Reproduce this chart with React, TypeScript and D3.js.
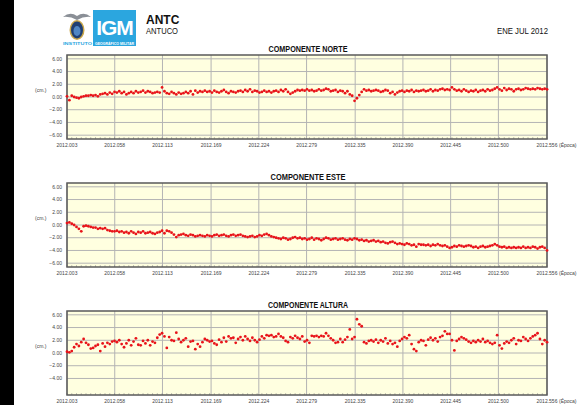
import React, { useEffect, useRef } from 'react';
import * as d3 from 'd3';

// decimal-year epochs on the x axis
const tickValues = [2012.003, 2012.058, 2012.113, 2012.169, 2012.224, 2012.279, 2012.335, 2012.39, 2012.445, 2012.5, 2012.556];
const tickLabels = ['2012.003', '2012.058', '2012.113', '2012.169', '2012.224', '2012.279', '2012.335', '2012.390', '2012.445', '2012.500', '2012.556'];
const yTicks = [6, 4, 2, 0, -2, -4, -6];
const startEpoch = 2012.003;

// daily solutions (cm)
const norte = [
  0.1, -0.5, 0.2, 0.0, -0.1, -0.2, 0.0, 0.1, 0.2, 0.2,
  0.3, 0.2, 0.3, 0.1, 0.4, 0.5, 0.6, 0.4, 0.7, 0.5,
  0.8, 0.7, 0.9, 0.6, 0.8, 0.4, 0.6, 0.8, 0.6, 0.9,
  0.7, 0.8, 1.0, 0.7, 0.9, 0.8, 0.6, 0.7, 0.8, 0.7,
  1.5, 0.9, 0.6, 0.5, 0.8, 0.6, 0.4, 0.7, 0.5, 0.6,
  0.8, 0.6, 0.9, 0.4, 1.0, 0.7, 0.9, 0.8, 1.0, 0.8,
  0.9, 0.7, 1.0, 0.8, 0.7, 0.9, 1.1, 0.8, 0.6, 0.9,
  0.8, 0.7, 0.9, 1.0, 0.8, 1.1, 0.9, 1.2, 0.8, 1.0,
  0.9, 0.7, 0.8, 1.0, 0.8, 0.9, 0.7, 0.9, 1.0, 0.8,
  1.1, 0.9, 1.2, 0.8, 0.5, 0.7, 0.9, 1.1, 1.0, 1.1,
  1.0, 1.2, 1.0, 1.1, 0.9, 1.0, 1.2, 1.0, 1.1, 1.3,
  1.2, 0.9, 1.0, 1.1, 0.8, 1.0, 0.9, 0.6, 0.9, 0.4,
  0.2, -0.6, -0.2, 0.3, 0.8, 1.2, 1.0, 1.1, 0.9, 1.0,
  1.1, 1.0, 0.8, 0.9, 1.1, 1.0, 0.6, 0.8, 0.4, 0.7,
  0.9, 1.0, 0.8, 1.0, 0.9, 1.1, 0.8, 1.0, 0.9, 1.0,
  1.1, 0.9, 1.0, 1.2, 0.9, 1.1, 1.0, 1.2, 1.3, 1.1,
  1.2, 1.1, 1.5, 1.2, 1.0, 1.1, 0.9, 1.2, 1.0, 0.8,
  1.0, 0.9, 1.1, 0.8, 1.0, 1.1, 0.9, 1.2, 1.0, 1.1,
  1.3, 1.5, 1.2, 1.0, 1.4, 1.1, 1.3, 1.2, 0.9, 1.2,
  1.3, 1.1, 1.2, 1.4, 1.3, 1.2, 1.3, 1.2, 1.4, 1.3,
  1.2, 1.3, 1.2,
];

const este = [
  0.3, 0.4, 0.2, 0.0, -0.3, -0.6, -1.0, -0.2, -0.1, -0.2,
  -0.3, -0.4, -0.4, -0.6, -0.5, -0.6, -0.5, -0.8, -0.9, -1.0,
  -1.0, -0.9, -1.1, -1.0, -1.2, -1.1, -1.3, -1.0, -1.2, -1.4,
  -1.1, -1.2, -1.0, -1.3, -1.2, -1.1, -1.3, -1.4, -1.2, -1.1,
  -0.9, -1.3, -0.9, -1.0, -1.2, -1.5, -1.9, -1.6, -1.5, -1.4,
  -1.6, -1.7, -1.5, -1.6, -1.8, -1.7, -1.6, -1.7, -1.8, -1.6,
  -1.7, -1.8, -1.6, -1.5, -1.7, -1.6, -1.5, -1.7, -1.8, -1.6,
  -1.5, -1.7, -1.6, -1.5, -1.7, -1.8, -1.9, -1.8, -1.7, -1.9,
  -1.8, -1.6, -1.7, -1.5, -1.4, -1.6, -1.8, -1.9, -2.0, -2.1,
  -2.2, -2.0, -2.1, -2.3, -2.2, -2.0, -1.9, -2.1, -2.0, -2.2,
  -2.1, -2.3, -2.2, -2.0, -2.3, -2.1, -2.2, -2.4, -2.2, -2.0,
  -2.1, -2.3, -2.2, -2.1, -2.3, -2.2, -2.1, -2.3, -2.4, -2.2,
  -2.3, -2.1, -2.2, -2.4, -2.3, -2.5, -2.4, -2.6, -2.5, -2.4,
  -2.6, -2.5, -2.7, -2.6, -2.8, -2.9, -2.7, -2.6, -2.8, -3.0,
  -2.9, -3.0, -3.1, -2.9, -3.0, -3.2, -3.1, -3.4, -3.0, -3.1,
  -3.1, -3.2, -3.1, -3.3, -3.1, -3.2, -3.0, -3.2, -3.3, -3.2,
  -3.4, -3.6, -3.5, -3.3, -3.4, -3.2, -3.3, -3.4, -3.3, -3.2,
  -3.3, -3.5, -3.4, -3.6, -3.4, -3.3, -3.5, -3.4, -3.3, -3.2,
  -3.0, -3.2, -3.4, -3.5, -3.4, -3.6, -3.5, -3.6, -3.5, -3.6,
  -3.5, -3.6, -3.4, -3.6, -3.5, -3.6, -3.4, -3.5, -3.7, -3.5,
  -3.4, -3.6, -4.0,
];

const altura = [
  0.2, 0.1, 0.3, 0.9, 1.4, 1.1, 1.7, 2.2, 1.6, 1.3,
  0.7, 0.8, 1.1, 1.3, 0.3, 1.5, 1.0, 1.6, 1.4, 1.8,
  1.9, 1.7, 2.0, 1.4, 0.9, 1.5, 2.0, 1.2, 1.8, 2.3,
  1.3, 1.2, 1.9, 1.5, 2.0, 1.2, 1.8, 1.6, 2.4, 2.9,
  3.1, 2.6, 0.8, 2.5, 2.0, 1.9, 3.2, 2.2, 1.7, 2.0,
  2.3, 1.0, 1.8, 1.9, 0.6, 1.4, 1.0, 1.7, 2.2, 2.0,
  1.8, 1.9, 1.5, 1.3, 2.1, 1.7, 2.4, 1.8, 2.6, 2.3,
  2.4, 1.6, 2.2, 2.5, 2.0, 2.6, 2.2, 1.9, 2.4, 2.0,
  1.7, 2.1, 2.6, 2.3, 2.8, 2.7, 2.8, 2.5, 2.6, 3.0,
  2.6, 2.4, 1.9, 1.7, 2.5, 2.3, 2.7, 2.4, 2.2, 2.6,
  1.8, 2.0, 1.6, 2.7, 2.6, 2.7, 2.5, 2.7, 2.6, 3.1,
  2.7, 2.3, 2.0, 1.6, 1.7, 2.2, 1.7, 2.1, 2.5, 3.7,
  2.2, 2.5, 5.3, 4.5, 4.2, 1.7, 1.5, 1.9, 2.0, 1.8,
  2.1, 1.6, 2.0, 1.8, 2.3, 1.5, 1.9, 1.4, 1.6, 1.0,
  1.9, 2.2, 2.5, 2.3, 2.8, 1.4, 0.6, 0.3, 1.7, 2.0,
  1.9, 1.2, 2.1, 2.4, 2.0, 2.3, 1.8, 2.5, 2.7, 3.4,
  3.0, 3.0, 2.0, 0.4, 1.9, 2.2, 2.5, 2.3, 2.1, 1.8,
  1.6, 1.9, 1.7, 2.0, 1.8, 2.2, 1.7, 1.9, 1.6, 1.4,
  1.6, 2.8, 1.2, 0.7, 1.5, 1.8, 1.6, 2.0, 2.3, 1.4,
  2.0, 1.9, 2.5, 2.2, 1.9, 2.3, 2.6, 2.8, 3.1, 2.2,
  1.4, 2.0, 1.7,
];

const panels = [
  { title: 'COMPONENTE NORTE', titleWidth: 79, values: norte, labels: yTicks },
  { title: 'COMPONENTE ESTE', titleWidth: 75, values: este, labels: yTicks },
  { title: 'COMPONENTE ALTURA', titleWidth: 80, values: altura, labels: [6, 4, 2, 0, -2, -4] },
];

const FONT = '"Liberation Sans", Arial, sans-serif';

export default function App() {
  const ref = useRef<SVGSVGElement>(null);

  useEffect(() => {
    if (!ref.current) return;
    const svg = d3.select(ref.current);
    svg.selectAll('*').remove();

    const width = 578;
    const height = 405;
    const left = 67;
    const right = 547;
    const plotH = 84;
    const tops = [55, 183, 311];

    svg.append('rect').attr('width', width).attr('height', height).attr('fill', '#fff');
    svg.append('rect').attr('width', 14).attr('height', height).attr('fill', '#000');

    // ------- Header -------
    const logo = svg.append('g');
    // emblem
    logo.append('path')
      .attr('d', 'M63,17 Q70,11 77,16 Q84,11 91,17 Q84,16 77,20 Q70,16 63,17 Z')
      .attr('fill', '#8a8f96');
    logo.append('ellipse').attr('cx', 77).attr('cy', 30).attr('rx', 7.5).attr('ry', 10).attr('fill', '#c9a64a');
    logo.append('ellipse').attr('cx', 77).attr('cy', 30).attr('rx', 6).attr('ry', 8.5).attr('fill', '#1f3f73');
    logo.append('ellipse').attr('cx', 77).attr('cy', 31).attr('rx', 3.5).attr('ry', 5).attr('fill', '#4f86c4');
    logo.append('rect').attr('x', 93).attr('y', 10).attr('width', 43).attr('height', 36).attr('fill', '#2ba6df');
    logo.append('text').attr('x', 114.5).attr('y', 35).attr('text-anchor', 'middle')
      .attr('font-family', FONT).attr('font-weight', 'bold')
      .attr('font-size', 21).attr('fill', '#fff').attr('letter-spacing', -1).text('IGM');
    logo.append('text').attr('x', 63).attr('y', 44.5).attr('font-family', FONT)
      .attr('font-size', 3.6).attr('font-weight', 'bold').attr('fill', '#2ba6df')
      .attr('textLength', 29).attr('lengthAdjust', 'spacingAndGlyphs').text('INSTITUTO');
    logo.append('text').attr('x', 95).attr('y', 44.5).attr('font-family', FONT)
      .attr('font-size', 3.6).attr('font-weight', 'bold').attr('fill', '#fff')
      .attr('textLength', 39).attr('lengthAdjust', 'spacingAndGlyphs').text('GEOGRÁFICO MILITAR');

    svg.append('text').attr('x', 146).attr('y', 24).attr('font-family', FONT)
      .attr('font-weight', 'bold').attr('font-size', 12).attr('fill', '#111').text('ANTC');
    svg.append('text').attr('x', 146).attr('y', 33.5).attr('font-family', FONT)
      .attr('font-size', 8.5).attr('fill', '#111')
      .attr('textLength', 32).attr('lengthAdjust', 'spacingAndGlyphs').text('ANTUCO');
    svg.append('text').attr('x', 497).attr('y', 34).attr('font-family', FONT)
      .attr('font-size', 8.5).attr('fill', '#111')
      .attr('textLength', 51).attr('lengthAdjust', 'spacingAndGlyphs').text('ENE JUL 2012');

    const x = d3.scaleLinear().domain([tickValues[0], tickValues[tickValues.length - 1]]).range([left, right]);

    panels.forEach((p, k) => {
      const top = tops[k];
      const y = d3.scaleLinear().domain([-6.6, 6.6]).range([top + plotH, top]);
      const g = svg.append('g');

      g.append('text').attr('x', (left + right) / 2 - p.titleWidth / 2 + 1).attr('y', top - 3)
        .attr('font-family', FONT).attr('font-weight', 'bold')
        .attr('font-size', 8.5).attr('fill', '#111')
        .attr('textLength', p.titleWidth).attr('lengthAdjust', 'spacingAndGlyphs').text(p.title);

      g.append('rect').attr('x', left).attr('y', top).attr('width', right - left).attr('height', plotH)
        .attr('fill', '#ffffe0');

      // grid
      g.selectAll('line.hg').data(p.labels).enter().append('line')
        .attr('x1', left).attr('x2', right)
        .attr('y1', (d) => y(d)).attr('y2', (d) => y(d))
        .attr('stroke', '#b4b4b4').attr('stroke-width', 1);
      g.selectAll('line.vg').data(tickValues).enter().append('line')
        .attr('x1', (d) => x(d)).attr('x2', (d) => x(d))
        .attr('y1', top).attr('y2', top + plotH)
        .attr('stroke', '#b4b4b4').attr('stroke-width', 1);

      // minor ticks on the time axis
      const minor = d3.range(0, 203, 2).map((i) => startEpoch + i / 365.25);
      g.selectAll('line.mt').data(minor).enter().append('line')
        .attr('x1', (d) => x(d)).attr('x2', (d) => x(d))
        .attr('y1', top + plotH - 2).attr('y2', top + plotH)
        .attr('stroke', '#888').attr('stroke-width', 0.5);

      g.append('rect').attr('x', left).attr('y', top).attr('width', right - left).attr('height', plotH)
        .attr('fill', 'none').attr('stroke', '#5a5a5a').attr('stroke-width', 1.5);

      // y labels
      g.selectAll('text.yl').data(p.labels).enter().append('text')
        .attr('x', left - 5).attr('y', (d) => y(d)).attr('dy', '0.35em')
        .attr('text-anchor', 'end').attr('font-family', FONT).attr('font-size', 5)
        .attr('fill', '#444').text((d) => d3.format('.2f')(d));
      g.append('text').attr('x', 35).attr('y', y(1.1)).attr('dy', '0.35em')
        .attr('font-family', FONT).attr('font-size', 5).attr('fill', '#444').text('(cm.)');

      // x labels
      g.selectAll('text.xl').data(tickValues).enter().append('text')
        .attr('x', (d) => x(d)).attr('y', top + plotH + 8)
        .attr('text-anchor', 'middle').attr('font-family', FONT).attr('font-size', 5)
        .attr('fill', '#444').text((d, i) => tickLabels[i]);
      g.append('text').attr('x', 559).attr('y', top + plotH + 8)
        .attr('font-family', FONT).attr('font-size', 5).attr('fill', '#444').text('(Época)');

      // points
      g.selectAll('circle').data(p.values).enter().append('circle')
        .attr('cx', (d, i) => x(startEpoch + i / 365.25))
        .attr('cy', (d) => y(d))
        .attr('r', 1.4)
        .attr('fill', '#e8141a');
    });
  }, []);

  return (
    <svg ref={ref} width={578} height={405} style={{ position: 'absolute', left: 0, top: 0 }} />
  );
}
